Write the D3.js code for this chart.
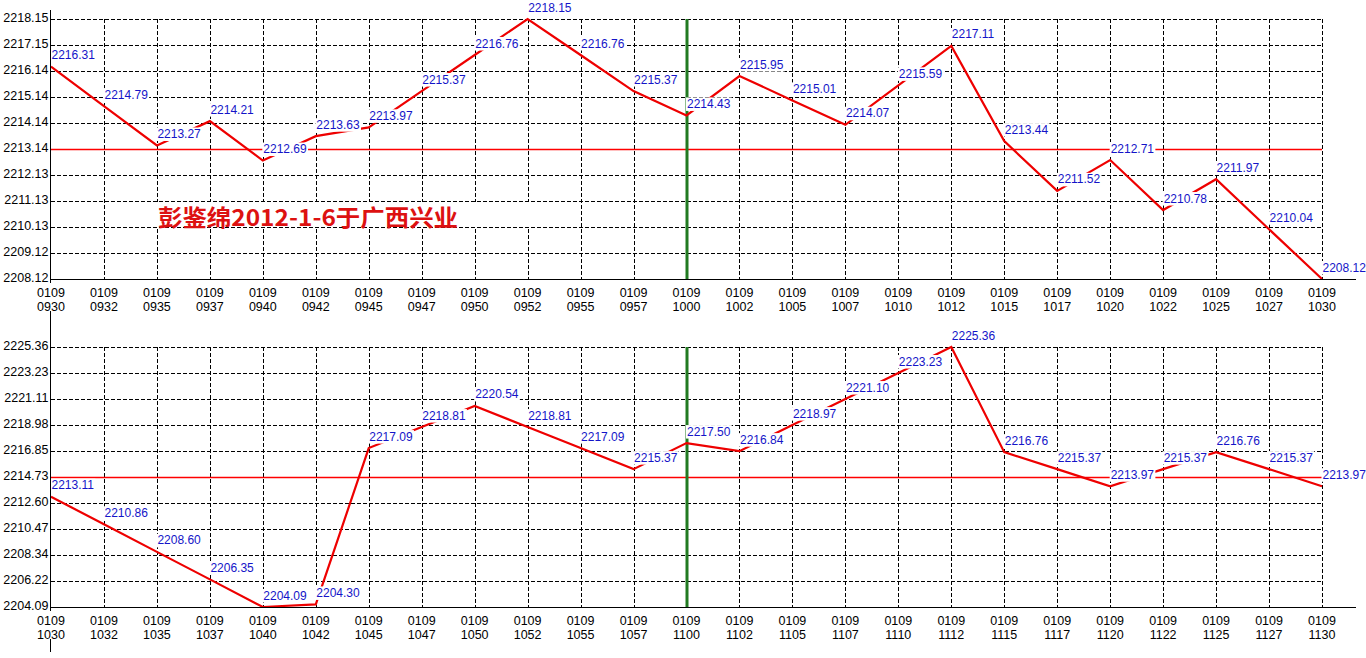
<!DOCTYPE html>
<html>
<head>
<meta charset="utf-8">
<script src="https://cdn.jsdelivr.net/npm/d3@7"></script>
<style>
  body { margin: 0; background: #fff; }
  svg { display: block; }
  text { font-family: "Liberation Sans", Arial, sans-serif; }
</style>
</head>
<body>
<div id="chart"></div>
<script>
// Données
const dayLabel = "0109";

const topTimes = ["0930", "0932", "0935", "0937", "0940", "0942", "0945", "0947", "0950", "0952", "0955", "0957", "1000",
    "1002", "1005", "1007", "1010", "1012", "1015", "1017", "1020", "1022", "1025", "1027", "1030"];
const topValues = [2216.31, 2214.79, 2213.27, 2214.21, 2212.69, 2213.63, 2213.97, 2215.37, 2216.76, 2218.15, 2216.76, 2215.37, 2214.43,
    2215.95, 2215.01, 2214.07, 2215.59, 2217.11, 2213.44, 2211.52, 2212.71, 2210.78, 2211.97, 2210.04, 2208.12];
const topTicks = [2208.12, 2209.12, 2210.13, 2211.13, 2212.13, 2213.14, 2214.14, 2215.14, 2216.14, 2217.15, 2218.15];
const topMid = 2213.14;
const topMark = "1000";

const bottomTimes = ["1030", "1032", "1035", "1037", "1040", "1042", "1045", "1047", "1050", "1052", "1055", "1057", "1100",
    "1102", "1105", "1107", "1110", "1112", "1115", "1117", "1120", "1122", "1125", "1127", "1130"];
const bottomValues = [2213.11, 2210.86, 2208.60, 2206.35, 2204.09, 2204.30, 2217.09, 2218.81, 2220.54, 2218.81, 2217.09, 2215.37, 2217.50,
    2216.84, 2218.97, 2221.10, 2223.23, 2225.36, 2216.76, 2215.37, 2213.97, 2215.37, 2216.76, 2215.37, 2213.97];
const bottomTicks = [2204.09, 2206.22, 2208.34, 2210.47, 2212.60, 2214.73, 2216.85, 2218.98, 2221.11, 2223.23, 2225.36];
const bottomMid = 2214.73;
const bottomMark = "1100";

const title = "彭鉴绵2012-1-6于广西兴业";

// Dimensions
const width = 1366, height = 658;
const left = 51, right = 1322, axisEnd = 1356;

const svg = d3.select("#chart")
    .append("svg")
    .attr("width", width)
    .attr("height", height);

svg.append("rect").attr("width", width).attr("height", height).attr("fill", "#fff");

// Dessin d'un panneau
function drawPanel(times, values, ticks, mid, mark, top, bottom, axisTop, axisBottom) {
    const g = svg.append("g");

    const x = d3.scalePoint()
        .domain(times)
        .range([left, right]);

    const y = d3.scaleLinear()
        .domain([ticks[0], ticks[ticks.length - 1]])
        .range([bottom, top]);

    // Grille pointillée (sans la ligne moyenne ni la ligne verte)
    g.append("g")
        .selectAll("line")
        .data(ticks.slice(1).filter(d => d !== mid))
        .enter()
        .append("line")
        .attr("x1", left)
        .attr("x2", right)
        .attr("y1", d => Math.round(y(d)) + 0.5)
        .attr("y2", d => Math.round(y(d)) + 0.5)
        .attr("stroke", "#000")
        .attr("stroke-dasharray", "4,2");

    g.append("g")
        .selectAll("line")
        .data(times.slice(1).filter(d => d !== mark))
        .enter()
        .append("line")
        .attr("x1", d => Math.round(x(d)) + 0.5)
        .attr("x2", d => Math.round(x(d)) + 0.5)
        .attr("y1", top)
        .attr("y2", bottom)
        .attr("stroke", "#000")
        .attr("stroke-dasharray", "4,2");

    // Ligne horizontale rouge (niveau moyen)
    g.append("line")
        .attr("x1", left)
        .attr("x2", right)
        .attr("y1", Math.round(y(mid)) + 0.5)
        .attr("y2", Math.round(y(mid)) + 0.5)
        .attr("stroke", "#ff0000")
        .attr("stroke-width", 1.3);

    // Ligne verticale verte
    g.append("line")
        .attr("x1", Math.round(x(mark)))
        .attr("x2", Math.round(x(mark)))
        .attr("y1", top)
        .attr("y2", bottom)
        .attr("stroke", "#217a21")
        .attr("stroke-width", 3);

    // Courbe
    const points = times.map((t, i) => ({ t: t, v: values[i] }));
    const line = d3.line()
        .x(d => x(d.t))
        .y(d => y(d.v));

    g.append("path")
        .datum(points)
        .attr("d", line)
        .attr("fill", "none")
        .attr("stroke", "#ee0000")
        .attr("stroke-width", 2.2);

    // Étiquettes des valeurs avec fond blanc
    const labels = g.append("g")
        .selectAll("g")
        .data(points)
        .enter()
        .append("g");

    labels.append("text")
        .attr("x", d => x(d.t) + 0.5)
        .attr("y", d => y(d.v) - 7.5)
        .attr("fill", "#1414c8")
        .style("font-size", "12px")
        .text(d => d.v.toFixed(2));

    labels.each(function () {
        const t = d3.select(this).select("text");
        const b = t.node().getBBox();
        d3.select(this).insert("rect", "text")
            .attr("x", b.x - 1)
            .attr("y", b.y + 0.5)
            .attr("width", b.width + 2)
            .attr("height", b.height - 0.5)
            .attr("fill", "#fff");
    });

    // Axes
    g.append("line")
        .attr("x1", left - 0.5).attr("x2", left - 0.5)
        .attr("y1", axisTop).attr("y2", axisBottom)
        .attr("stroke", "#000");
    g.append("line")
        .attr("x1", left - 1).attr("x2", axisEnd)
        .attr("y1", bottom + 0.5).attr("y2", bottom + 0.5)
        .attr("stroke", "#000");

    // Étiquettes de l'axe Y
    const yAxis = d3.axisLeft(y)
        .tickValues(ticks)
        .tickFormat(d3.format(".2f"))
        .tickSize(0)
        .tickPadding(2);

    const ya = g.append("g")
        .attr("transform", `translate(${left - 0.5}, -1.5)`)
        .call(yAxis);
    ya.select(".domain").remove();
    ya.selectAll("text")
        .attr("fill", "#000")
        .style("font-size", "12.5px")
        .style("font-family", '"Liberation Sans", Arial, sans-serif');

    // Étiquettes de l'axe X sur deux lignes
    const xl = g.append("g")
        .selectAll("g")
        .data(times)
        .enter()
        .append("g");

    xl.append("rect")
        .attr("x", d => x(d) - 14)
        .attr("y", bottom + 4)
        .attr("width", 28)
        .attr("height", 28)
        .attr("fill", "#fff");

    xl.append("text")
        .attr("x", d => x(d))
        .attr("y", bottom + 18)
        .attr("text-anchor", "middle")
        .attr("fill", "#000")
        .style("font-size", "12.5px")
        .text(dayLabel);

    xl.append("text")
        .attr("x", d => x(d))
        .attr("y", bottom + 32)
        .attr("text-anchor", "middle")
        .attr("fill", "#000")
        .style("font-size", "12.5px")
        .text(d => d);

    return g;
}

const topPanel = drawPanel(topTimes, topValues, topTicks, topMid, topMark, 19, 279, 10, 315);
drawPanel(bottomTimes, bottomValues, bottomTicks, bottomMid, bottomMark, 347, 607, 315, 652);

// Titre en rouge avec fond blanc
topPanel.append("rect")
    .attr("x", 155)
    .attr("y", 202)
    .attr("width", 423)
    .attr("height", 25)
    .attr("fill", "#fff");

const titleText = topPanel.append("text")
    .attr("x", 158)
    .attr("y", 226)
    .attr("fill", "#dd1111")
    .style("font-family", '"Noto Sans CJK SC", sans-serif')
    .style("font-weight", "bold")
    .style("font-size", "23px")
    .text(title);

// Ajustement de la largeur du titre (~300px)
const tw = titleText.node().getComputedTextLength();
if (Math.abs(tw - 300) > 4) {
    titleText.attr("textLength", 300).attr("lengthAdjust", "spacingAndGlyphs");
}
</script>
</body>
</html>
